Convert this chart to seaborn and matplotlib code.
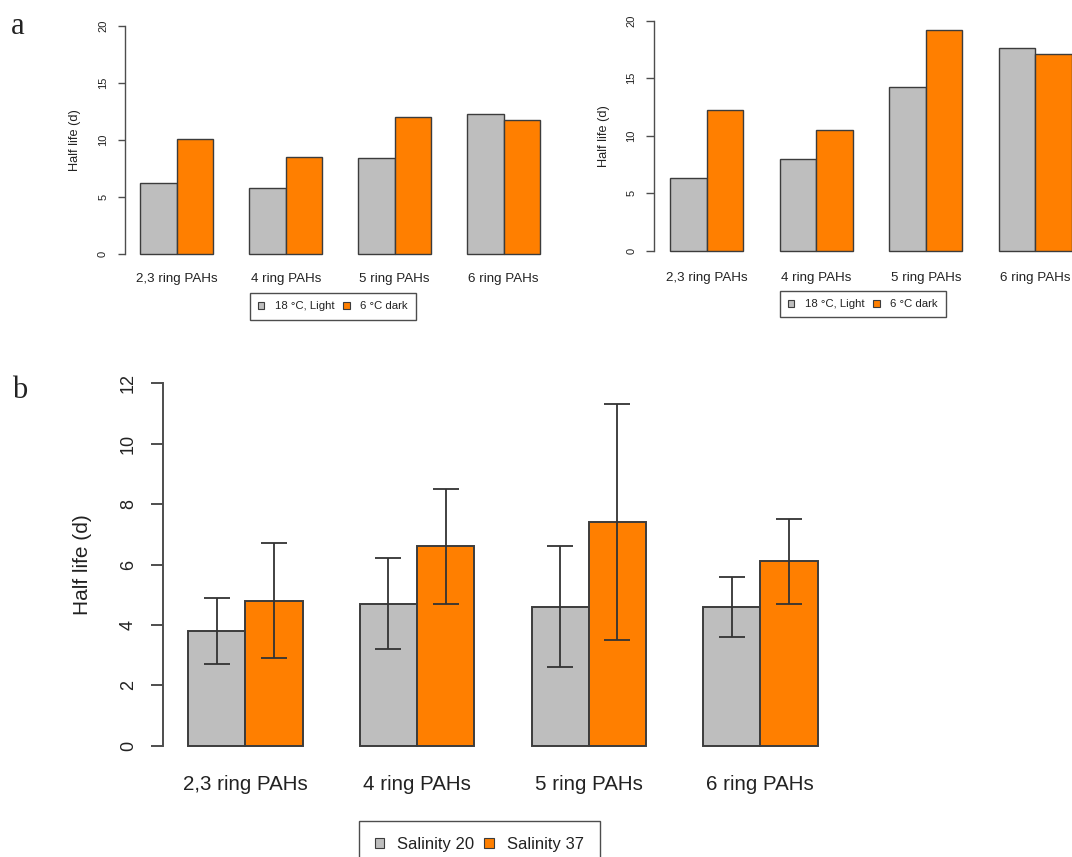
import numpy as np
import pandas as pd
import matplotlib
matplotlib.use("Agg")
import matplotlib.pyplot as plt
from matplotlib.patches import Patch
import seaborn as sns

# data
categories = ["2,3 ring PAHs", "4 ring PAHs", "5 ring PAHs", "6 ring PAHs"]

# panel a, left
a1_light = [6.2, 5.8, 8.4, 12.3]
a1_dark = [10.1, 8.5, 12.0, 11.7]
# panel a, right
a2_light = [6.3, 8.0, 14.2, 17.6]
a2_dark = [12.2, 10.5, 19.2, 17.1]
a_conditions = ["18 °C, Light", "6 °C dark"]

# panel b
b_sal20 = [3.8, 4.7, 4.6, 4.6]
b_sal37 = [4.8, 6.6, 7.4, 6.1]
b_sal20_lo = [2.7, 3.2, 2.6, 3.6]
b_sal20_hi = [4.9, 6.2, 6.6, 5.6]
b_sal37_lo = [2.9, 4.7, 3.5, 4.7]
b_sal37_hi = [6.7, 8.5, 11.3, 7.5]
b_conditions = ["Salinity 20", "Salinity 37"]

GRAY = "#BEBEBE"
ORANGE = "#FF7F00"
EDGE = "#3c3c3c"
AXC = "#4d4d4d"
TXT = "#222222"

W, H = 1072, 857

sns.set_style("white")
plt.rcParams["font.family"] = ["Liberation Sans", "DejaVu Sans"]
plt.rcParams["text.color"] = TXT
plt.rcParams["axes.labelcolor"] = TXT
plt.rcParams["xtick.color"] = TXT
plt.rcParams["ytick.color"] = TXT

fig = plt.figure(figsize=(W / 100, H / 100), dpi=100)


def px_axes(left, top, right, bottom):
    return fig.add_axes([left / W, 1 - bottom / H, (right - left) / W, (bottom - top) / H])


def panel(rect, light, dark, conds, ymax, ystep, fs_tick, fs_cat, fs_lab,
          tick_len, ypad, xpad, lab_x, lw, leg_xy, fs_leg, leg_pads):
    left, top, right, bottom = rect
    ax = px_axes(*rect)
    df = pd.DataFrame({
        "group": categories * 2,
        "value": light + dark,
        "condition": [conds[0]] * 4 + [conds[1]] * 4,
    })
    sns.barplot(data=df, x="group", y="value", hue="condition",
                palette=[GRAY, ORANGE], width=2 / 3, saturation=1,
                edgecolor=EDGE, linewidth=lw, errorbar=None, legend=False, ax=ax)
    ax.set_xlim(-0.48, 3.48)
    ax.set_ylim(-0.04 * ymax, 1.04 * ymax)
    for s in ["top", "right", "bottom"]:
        ax.spines[s].set_visible(False)
    ax.spines["left"].set_bounds(0, ymax)
    ax.spines["left"].set_color(AXC)
    ax.spines["left"].set_linewidth(lw)
    ax.set_yticks(np.arange(0, ymax + 0.1, ystep))
    ax.tick_params(axis="y", left=True, length=tick_len, width=lw, color=AXC,
                   pad=ypad, labelsize=fs_tick, labelrotation=90)
    for t in ax.get_yticklabels():
        t.set_va("center")
    ax.tick_params(axis="x", bottom=False, length=0, pad=xpad, labelsize=fs_cat)
    ax.set_xlabel("")
    ax.set_ylabel("Half life (d)", fontsize=fs_lab)
    ax.yaxis.set_label_coords((lab_x - left) / (right - left), 0.5)
    ax.yaxis.label.set_va("center")

    bpad, tpad, cspace = leg_pads
    handles = [Patch(facecolor=GRAY, edgecolor=EDGE, linewidth=0.8, label=conds[0]),
               Patch(facecolor=ORANGE, edgecolor=EDGE, linewidth=0.8, label=conds[1])]
    leg = ax.legend(handles=handles, loc="upper left",
                    bbox_to_anchor=(leg_xy[0] / W, 1 - leg_xy[1] / H),
                    bbox_transform=fig.transFigure, ncol=2, fontsize=fs_leg,
                    frameon=True, fancybox=False, framealpha=1, edgecolor=AXC,
                    borderpad=bpad, handlelength=0.55, handleheight=0.55,
                    handletextpad=tpad, columnspacing=cspace, borderaxespad=0)
    leg.get_frame().set_linewidth(1.0)
    return ax


# panel a, left
panel((124.5, 16.6, 556.0, 263.1), a1_light, a1_dark, a_conditions, 20, 5,
      8, 9.6, 9.2, 5, 6.8, 7.4, 75.0, 1.0, (250, 293.3), 8.2, (0.72, 0.9, 0.8))
# panel a, right
panel((654.2, 11.5, 1087.9, 259.9), a2_light, a2_dark, a_conditions, 20, 5,
      8, 9.6, 9.2, 5.5, 7.2, 9.0, 603.5, 1.0, (780, 291), 8.2, (0.72, 0.9, 0.8))
# panel b
axb = panel((163.1, 368.8, 842.7, 760.2), b_sal20, b_sal37, b_conditions, 12, 2,
            13, 14.8, 15, 9, 9.9, 10.6, 82.5, 1.4, (359, 820.7), 12, (0.95, 0.8, 0.6))

# error bars for panel b, placed at the centres of the drawn bars
centers = [p.get_x() + p.get_width() / 2 for p in axb.patches]
means = np.array(b_sal20 + b_sal37)
lo = np.array(b_sal20_lo + b_sal37_lo)
hi = np.array(b_sal20_hi + b_sal37_hi)
axb.errorbar(centers, means, yerr=[means - lo, hi - means], fmt="none",
             ecolor="#333333", elinewidth=1.3, capsize=9.4, capthick=1.3)

fig.text(10.5 / W, 1 - 34.5 / H, "a", family="Liberation Serif", fontsize=22,
         ha="left", va="baseline")
fig.text(12 / W, 1 - 398 / H, "b", family="Liberation Serif", fontsize=22,
         ha="left", va="baseline")

fig.savefig("out.png", dpi=100)
